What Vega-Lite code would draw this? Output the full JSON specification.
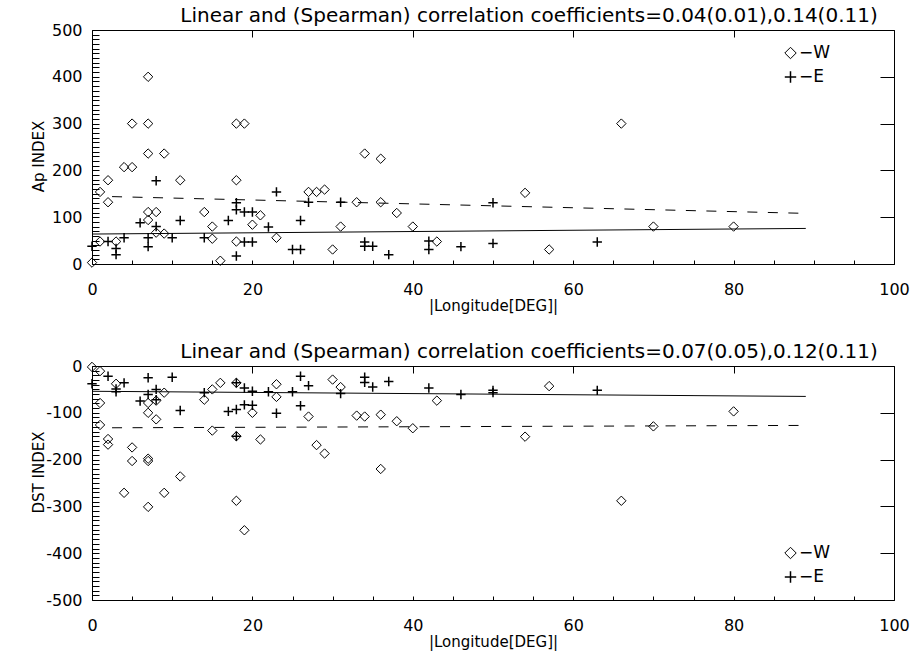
{
  "$schema": "https://vega.github.io/schema/vega-lite/v6.json",
  "background": "white",
  "padding": {"left": 30, "top": 5, "right": 5, "bottom": 5},
  "spacing": 27,
  "resolve": {"scale": {"shape": "independent", "strokeWidth": "independent", "strokeDash": "independent"}, "legend": {"shape": "independent"}},
  "config": {
    "font": "DejaVu Sans",
    "view": {"stroke": "black", "strokeWidth": 1, "fill": "transparent"},
    "axis": {"zindex": 1, "domain": false, "ticks": true, "tickColor": "black", "tickWidth": 1, "labelColor": "black", "titleColor": "black", "grid": false, "labelFont": "DejaVu Sans", "titleFont": "DejaVu Sans", "labelFontSize": 16, "titleFontSize": 15, "titleFontWeight": "normal", "labelFlush": false, "labelOverlap": false},
    "title": {"font": "DejaVu Sans", "fontSize": 20, "fontWeight": "normal", "color": "black", "offset": -3.5},
    "legend": {"labelFont": "DejaVu Sans", "labelColor": "black"}
  },
  "datasets": {
    "apPoints": [
      {"lon": 0, "val": 3, "side": "W"}, {"lon": 7, "val": 400, "side": "W"}, {"lon": 5, "val": 300, "side": "W"}, {"lon": 7, "val": 300, "side": "W"}, {"lon": 18, "val": 300, "side": "W"}, {"lon": 19, "val": 300, "side": "W"}, {"lon": 66, "val": 300, "side": "W"}, {"lon": 7, "val": 236, "side": "W"}, {"lon": 9, "val": 236, "side": "W"}, {"lon": 34, "val": 236, "side": "W"}, {"lon": 36, "val": 225, "side": "W"}, {"lon": 4, "val": 207, "side": "W"}, {"lon": 5, "val": 207, "side": "W"}, {"lon": 2, "val": 179, "side": "W"}, {"lon": 11, "val": 179, "side": "W"}, {"lon": 18, "val": 179, "side": "W"}, {"lon": 1, "val": 154, "side": "W"}, {"lon": 27, "val": 154, "side": "W"}, {"lon": 28, "val": 154, "side": "W"}, {"lon": 29, "val": 159, "side": "W"}, {"lon": 54, "val": 152, "side": "W"}, {"lon": 2, "val": 132, "side": "W"}, {"lon": 33, "val": 132, "side": "W"}, {"lon": 36, "val": 132, "side": "W"}, {"lon": 7, "val": 111, "side": "W"}, {"lon": 8, "val": 111, "side": "W"}, {"lon": 14, "val": 111, "side": "W"}, {"lon": 38, "val": 109, "side": "W"}, {"lon": 21, "val": 104, "side": "W"}, {"lon": 7, "val": 94, "side": "W"}, {"lon": 20, "val": 84, "side": "W"}, {"lon": 15, "val": 80, "side": "W"}, {"lon": 31, "val": 80, "side": "W"}, {"lon": 40, "val": 80, "side": "W"}, {"lon": 70, "val": 80, "side": "W"}, {"lon": 80, "val": 80, "side": "W"}, {"lon": 8, "val": 67, "side": "W"}, {"lon": 9, "val": 65, "side": "W"}, {"lon": 23, "val": 56, "side": "W"}, {"lon": 15, "val": 54, "side": "W"}, {"lon": 1, "val": 48, "side": "W"}, {"lon": 3, "val": 48, "side": "W"}, {"lon": 18, "val": 48, "side": "W"}, {"lon": 43, "val": 48, "side": "W"}, {"lon": 30, "val": 31, "side": "W"}, {"lon": 57, "val": 31, "side": "W"}, {"lon": 16, "val": 7, "side": "W"},
      {"lon": 8, "val": 178, "side": "E"}, {"lon": 6, "val": 88, "side": "E"}, {"lon": 8, "val": 80, "side": "E"}, {"lon": 11, "val": 93, "side": "E"}, {"lon": 4, "val": 56, "side": "E"}, {"lon": 7, "val": 56, "side": "E"}, {"lon": 7, "val": 37, "side": "E"}, {"lon": 10, "val": 56, "side": "E"}, {"lon": 3, "val": 33, "side": "E"}, {"lon": 3, "val": 20, "side": "E"}, {"lon": 0, "val": 38, "side": "E"}, {"lon": 2, "val": 48, "side": "E"}, {"lon": 14, "val": 56, "side": "E"}, {"lon": 17, "val": 93, "side": "E"}, {"lon": 18, "val": 131, "side": "E"}, {"lon": 18, "val": 116, "side": "E"}, {"lon": 19, "val": 111, "side": "E"}, {"lon": 20, "val": 111, "side": "E"}, {"lon": 19, "val": 47, "side": "E"}, {"lon": 20, "val": 47, "side": "E"}, {"lon": 18, "val": 17, "side": "E"}, {"lon": 22, "val": 79, "side": "E"}, {"lon": 23, "val": 154, "side": "E"}, {"lon": 25, "val": 31, "side": "E"}, {"lon": 26, "val": 31, "side": "E"}, {"lon": 26, "val": 93, "side": "E"}, {"lon": 27, "val": 132, "side": "E"}, {"lon": 31, "val": 132, "side": "E"}, {"lon": 34, "val": 47, "side": "E"}, {"lon": 34, "val": 38, "side": "E"}, {"lon": 35, "val": 38, "side": "E"}, {"lon": 37, "val": 20, "side": "E"}, {"lon": 42, "val": 49, "side": "E"}, {"lon": 42, "val": 31, "side": "E"}, {"lon": 46, "val": 37, "side": "E"}, {"lon": 50, "val": 131, "side": "E"}, {"lon": 50, "val": 44, "side": "E"}, {"lon": 63, "val": 47, "side": "E"}
    ],
    "apFits": [
      {"lon": 0, "val": 64, "fit": "solid"}, {"lon": 89, "val": 76, "fit": "solid"},
      {"lon": 2.5, "val": 144, "fit": "dashed"}, {"lon": 88.2, "val": 108.5, "fit": "dashed"}
    ],
    "dstPoints": [
      {"lon": 0, "val": -2, "side": "W"}, {"lon": 1, "val": -11, "side": "W"}, {"lon": 3, "val": -38, "side": "W"}, {"lon": 1, "val": -79, "side": "W"}, {"lon": 1, "val": -126, "side": "W"}, {"lon": 2, "val": -156, "side": "W"}, {"lon": 2, "val": -168, "side": "W"}, {"lon": 5, "val": -174, "side": "W"}, {"lon": 5, "val": -203, "side": "W"}, {"lon": 7, "val": -198, "side": "W"}, {"lon": 7, "val": -203, "side": "W"}, {"lon": 4, "val": -271, "side": "W"}, {"lon": 7, "val": -301, "side": "W"}, {"lon": 9, "val": -271, "side": "W"}, {"lon": 11, "val": -236, "side": "W"}, {"lon": 18, "val": -288, "side": "W"}, {"lon": 19, "val": -351, "side": "W"}, {"lon": 7, "val": -79, "side": "W"}, {"lon": 7, "val": -100, "side": "W"}, {"lon": 8, "val": -114, "side": "W"}, {"lon": 8, "val": -74, "side": "W"}, {"lon": 9, "val": -57, "side": "W"}, {"lon": 14, "val": -72, "side": "W"}, {"lon": 15, "val": -50, "side": "W"}, {"lon": 16, "val": -36, "side": "W"}, {"lon": 15, "val": -138, "side": "W"}, {"lon": 18, "val": -36, "side": "W"}, {"lon": 18, "val": -150, "side": "W"}, {"lon": 20, "val": -100, "side": "W"}, {"lon": 21, "val": -157, "side": "W"}, {"lon": 23, "val": -39, "side": "W"}, {"lon": 23, "val": -66, "side": "W"}, {"lon": 27, "val": -108, "side": "W"}, {"lon": 28, "val": -169, "side": "W"}, {"lon": 29, "val": -187, "side": "W"}, {"lon": 30, "val": -29, "side": "W"}, {"lon": 31, "val": -45, "side": "W"}, {"lon": 33, "val": -106, "side": "W"}, {"lon": 34, "val": -108, "side": "W"}, {"lon": 36, "val": -104, "side": "W"}, {"lon": 38, "val": -118, "side": "W"}, {"lon": 40, "val": -133, "side": "W"}, {"lon": 36, "val": -220, "side": "W"}, {"lon": 43, "val": -74, "side": "W"}, {"lon": 54, "val": -151, "side": "W"}, {"lon": 57, "val": -43, "side": "W"}, {"lon": 66, "val": -288, "side": "W"}, {"lon": 70, "val": -129, "side": "W"}, {"lon": 80, "val": -97, "side": "W"},
      {"lon": 0, "val": -38, "side": "E"}, {"lon": 2, "val": -22, "side": "E"}, {"lon": 3, "val": -49, "side": "E"}, {"lon": 3, "val": -55, "side": "E"}, {"lon": 4, "val": -36, "side": "E"}, {"lon": 7, "val": -25, "side": "E"}, {"lon": 10, "val": -24, "side": "E"}, {"lon": 6, "val": -75, "side": "E"}, {"lon": 7, "val": -61, "side": "E"}, {"lon": 8, "val": -50, "side": "E"}, {"lon": 8, "val": -72, "side": "E"}, {"lon": 11, "val": -95, "side": "E"}, {"lon": 14, "val": -57, "side": "E"}, {"lon": 17, "val": -97, "side": "E"}, {"lon": 18, "val": -93, "side": "E"}, {"lon": 18, "val": -36, "side": "E"}, {"lon": 18, "val": -150, "side": "E"}, {"lon": 19, "val": -47, "side": "E"}, {"lon": 19, "val": -83, "side": "E"}, {"lon": 20, "val": -54, "side": "E"}, {"lon": 20, "val": -84, "side": "E"}, {"lon": 22, "val": -55, "side": "E"}, {"lon": 23, "val": -101, "side": "E"}, {"lon": 25, "val": -55, "side": "E"}, {"lon": 26, "val": -22, "side": "E"}, {"lon": 27, "val": -42, "side": "E"}, {"lon": 26, "val": -85, "side": "E"}, {"lon": 31, "val": -59, "side": "E"}, {"lon": 34, "val": -24, "side": "E"}, {"lon": 34, "val": -35, "side": "E"}, {"lon": 35, "val": -45, "side": "E"}, {"lon": 37, "val": -33, "side": "E"}, {"lon": 42, "val": -47, "side": "E"}, {"lon": 46, "val": -61, "side": "E"}, {"lon": 50, "val": -52, "side": "E"}, {"lon": 50, "val": -57, "side": "E"}, {"lon": 63, "val": -52, "side": "E"}
    ],
    "dstFits": [
      {"lon": 0, "val": -54, "fit": "solid"}, {"lon": 89, "val": -65, "fit": "solid"},
      {"lon": 2.5, "val": -132, "fit": "dashed"}, {"lon": 88.2, "val": -127, "fit": "dashed"}
    ]
  },
  "vconcat": [
    {
      "width": 802, "height": 234,
      "title": {"text": "Linear and (Spearman) correlation coefficients=0.04(0.01),0.14(0.11)", "dx": 36},
      "layer": [
        {
          "data": {"name": "apPoints"},
          "mark": {"type": "point", "filled": false, "color": "black", "opacity": 1},
          "encoding": {
            "x": {"field": "lon", "type": "quantitative", "scale": {"domain": [0, 100], "nice": false, "zero": false},
              "axis": {"orient": "bottom", "title": "|Longitude[DEG]|", "values": [0,5,10,15,20,25,30,35,40,45,50,55,60,65,70,75,80,85,90,95,100],
                "labelExpr": "datum.value % 20 === 0 ? datum.label : ''",
                "tickSize": 4, "offset": -4,
                "labelPadding": 17, "titlePadding": 1}},
            "y": {"field": "val", "type": "quantitative", "scale": {"domain": [0, 500], "nice": false, "zero": false},
              "axis": {"orient": "left", "title": "Ap INDEX", "values": [0,10,20,30,40,50,60,70,80,90,100,110,120,130,140,150,160,170,180,190,200,210,220,230,240,250,260,270,280,290,300,310,320,330,340,350,360,370,380,390,400,410,420,430,440,450,460,470,480,490,500],
                "labelExpr": "datum.value % 100 === 0 ? '' + datum.value : ''",
                "tickSize": 7, "offset": -7,
                "labelPadding": 10, "titleX": -61, "titleY": 126, "titleBaseline": "middle"}},
            "shape": {"field": "side", "type": "nominal", "scale": {"domain": ["W", "E"], "range": ["diamond", "M-1,0H1M0,-1V1"]},
              "legend": {"orient": "none", "legendX": 690, "legendY": 14.5, "title": null, "labelExpr": "'\u2212' + datum.label", "labelFontSize": 17, "symbolStrokeColor": "black", "symbolStrokeWidth": 1.6, "symbolSize": 130, "symbolFillColor": "white", "rowPadding": 6, "labelOffset": 0}},
            "size": {"value": 88},
            "strokeWidth": {"field": "side", "type": "nominal", "scale": {"domain": ["W", "E"], "range": [1, 1.5]}, "legend": null}
          }
        },
        {
          "data": {"name": "apFits"},
          "mark": {"type": "line", "color": "black", "strokeWidth": 1},
          "encoding": {
            "x": {"field": "lon", "type": "quantitative", "scale": {"domain": [0, 100], "nice": false, "zero": false},
              "axis": {"orient": "top", "title": null, "labels": false, "values": [0,20,40,60,80,100], "tickSize": 7, "offset": -7}},
            "y": {"field": "val", "type": "quantitative", "scale": {"domain": [0, 500], "nice": false, "zero": false},
              "axis": {"orient": "right", "title": null, "labels": false, "values": [0,100,200,300,400,500], "tickSize": 14, "offset": -14}},
            "detail": {"field": "fit", "type": "nominal"},
            "strokeDash": {"field": "fit", "type": "nominal", "scale": {"domain": ["solid", "dashed"], "range": [[1, 0], [10, 10.5]]}, "legend": null}
          }
        }
      ],
      "resolve": {"axis": {"x": "independent", "y": "independent"}}
    },
    {
      "width": 802, "height": 234,
      "title": {"text": "Linear and (Spearman) correlation coefficients=0.07(0.05),0.12(0.11)", "dx": 36},
      "layer": [
        {
          "data": {"name": "dstPoints"},
          "mark": {"type": "point", "filled": false, "color": "black", "opacity": 1},
          "encoding": {
            "x": {"field": "lon", "type": "quantitative", "scale": {"domain": [0, 100], "nice": false, "zero": false},
              "axis": {"orient": "bottom", "title": "|Longitude[DEG]|", "values": [0,5,10,15,20,25,30,35,40,45,50,55,60,65,70,75,80,85,90,95,100],
                "labelExpr": "datum.value % 20 === 0 ? datum.label : ''",
                "tickSize": 4, "offset": -4,
                "labelPadding": 17, "titlePadding": 1}},
            "y": {"field": "val", "type": "quantitative", "scale": {"domain": [-500, 0], "nice": false, "zero": false},
              "axis": {"orient": "left", "title": "DST INDEX", "values": [-500,-490,-480,-470,-460,-450,-440,-430,-420,-410,-400,-390,-380,-370,-360,-350,-340,-330,-320,-310,-300,-290,-280,-270,-260,-250,-240,-230,-220,-210,-200,-190,-180,-170,-160,-150,-140,-130,-120,-110,-100,-90,-80,-70,-60,-50,-40,-30,-20,-10,0],
                "labelExpr": "datum.value % 100 === 0 ? '' + datum.value : ''",
                "tickSize": 7, "offset": -7,
                "labelPadding": 10, "titleX": -61, "titleY": 106, "titleBaseline": "middle"}},
            "shape": {"field": "side", "type": "nominal", "scale": {"domain": ["W", "E"], "range": ["diamond", "M-1,0H1M0,-1V1"]},
              "legend": {"orient": "none", "legendX": 690, "legendY": 178.5, "title": null, "labelExpr": "'\u2212' + datum.label", "labelFontSize": 17, "symbolStrokeColor": "black", "symbolStrokeWidth": 1.6, "symbolSize": 130, "symbolFillColor": "white", "rowPadding": 6, "labelOffset": 0}},
            "size": {"value": 88},
            "strokeWidth": {"field": "side", "type": "nominal", "scale": {"domain": ["W", "E"], "range": [1, 1.5]}, "legend": null}
          }
        },
        {
          "data": {"name": "dstFits"},
          "mark": {"type": "line", "color": "black", "strokeWidth": 1},
          "encoding": {
            "x": {"field": "lon", "type": "quantitative", "scale": {"domain": [0, 100], "nice": false, "zero": false},
              "axis": {"orient": "top", "title": null, "labels": false, "values": [0,20,40,60,80,100], "tickSize": 7, "offset": -7}},
            "y": {"field": "val", "type": "quantitative", "scale": {"domain": [-500, 0], "nice": false, "zero": false},
              "axis": {"orient": "right", "title": null, "labels": false, "values": [-500,-400,-300,-200,-100,0], "tickSize": 14, "offset": -14}},
            "detail": {"field": "fit", "type": "nominal"},
            "strokeDash": {"field": "fit", "type": "nominal", "scale": {"domain": ["solid", "dashed"], "range": [[1, 0], [10, 10.5]]}, "legend": null}
          }
        }
      ],
      "resolve": {"axis": {"x": "independent", "y": "independent"}}
    }
  ]
}
